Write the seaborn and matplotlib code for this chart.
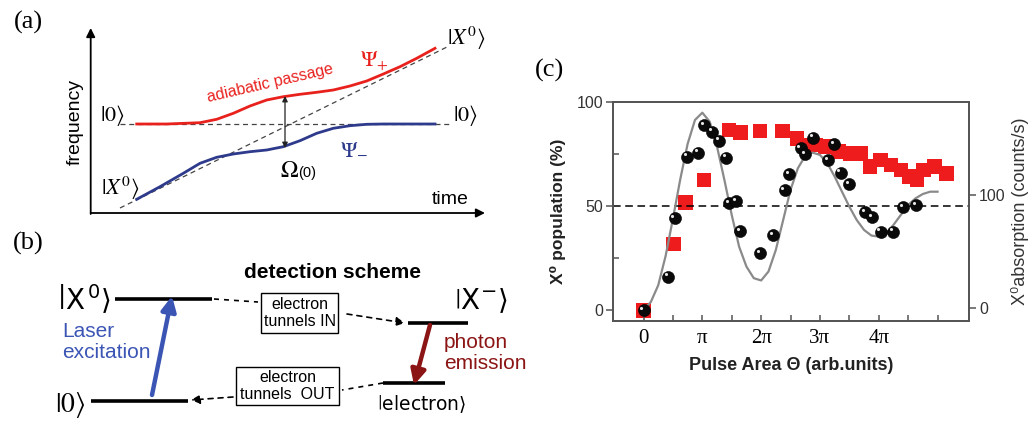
import numpy as np
import pandas as pd
import matplotlib
matplotlib.use("Agg")
import matplotlib.pyplot as plt
import matplotlib.transforms as mtransforms
from matplotlib.patches import Rectangle
import seaborn as sns

# ---------------- panel (c) data ----------------
# pulse area in units of pi
circ_theta = [0.0, 0.42, 0.53, 0.74, 0.93, 1.03, 1.17, 1.28, 1.40, 1.46, 1.58, 1.64,
              1.98, 2.20, 2.40, 2.48, 2.67, 2.75, 2.88, 3.14, 3.24, 3.35, 3.49,
              3.77, 3.89, 4.03, 4.25, 4.42, 4.64]
circ_pop = [0.0, 16.2, 44.2, 73.9, 75.8, 89.1, 85.9, 81.6, 73.4, 51.4, 52.6, 38.1,
            27.4, 36.1, 57.9, 65.4, 77.9, 75.0, 83.0, 72.3, 80.0, 66.2, 60.6,
            47.0, 44.6, 37.8, 37.8, 49.4, 50.6]
sq_theta = [0.0, 0.51, 0.71, 1.03, 1.45, 1.65, 1.98, 2.36, 2.61, 2.78, 2.92, 3.09,
            3.32, 3.52, 3.69, 3.85, 4.03, 4.21, 4.38, 4.52, 4.65, 4.76, 4.95, 5.15]
sq_abs = [-2.0, 56.8, 93.2, 113.2, 157.4, 155.0, 156.5, 156.5, 150.0, 144.0, 144.0, 142.6,
          138.2, 136.8, 136.8, 125.0, 130.9, 126.5, 122.0, 116.2, 113.2, 122.0, 125.0, 119.0]
fit_theta = [0.0, 0.125, 0.25, 0.375, 0.5, 0.625, 0.75, 0.875, 1.0, 1.125, 1.25, 1.375,
             1.5, 1.625, 1.75, 1.875, 2.0, 2.125, 2.25, 2.375, 2.5, 2.625, 2.75, 2.875,
             3.0, 3.125, 3.25, 3.375, 3.5, 3.625, 3.75, 3.875, 4.0, 4.125, 4.25, 4.375,
             4.5, 4.625, 4.75, 4.875, 5.0]
fit_pop = [0.0, 4.0, 12.0, 26.0, 44.0, 63.0, 80.0, 91.5, 95.0, 90.7, 78.7, 62.7,
           45.8, 30.6, 21.0, 15.4, 14.3, 18.6, 29.0, 43.4, 57.9, 68.3, 74.2, 75.8,
           74.7, 70.7, 64.3, 57.0, 49.8, 43.4, 38.6, 35.9, 35.4, 37.0, 41.0, 45.8,
           50.6, 53.8, 55.9, 57.0, 57.0]
xtick_vals = [0, 1, 2, 3, 4, 5]
xtick_labels = ["0", "π", "2π", "3π", "4π", ""]
left_ticks = [0, 50, 100]
right_ticks = [0, 100]

# ---------------- panel (a) data (diagram units = figure pixels) ----------------
a_red_x = [136.7, 166.7, 200, 216.7, 233.3, 250, 266.7, 283.3, 300, 316.7, 333.3, 350,
           366.7, 383.3, 400, 416.7, 435]
a_red_y = [124, 124, 122.7, 119.3, 113.3, 106, 100, 96.7, 94.3, 92.3, 90, 86,
           81, 74, 66.7, 58.3, 48.3]
a_blue_x = [136.7, 160, 183.3, 200, 216.7, 233.3, 250, 266.7, 283.3, 300, 316.7, 333.3,
            350, 366.7, 383.3, 435]
a_blue_y = [199.3, 186.7, 173.3, 163.3, 157.3, 154, 151.7, 150, 146.7, 140.7, 133.3, 128.3,
            125.7, 124.3, 124, 124]

W, H = 1031, 430
fig = plt.figure(figsize=(W / 100, H / 100), dpi=100)
plt.rcParams['font.family'] = ['Liberation Sans', 'DejaVu Sans']
SERIF = ['Liberation Serif', 'DejaVu Serif']

RED = '#e8211d'
BLUE = '#2e3a8c'
DRED = '#8b1414'
LBLUE = '#3b55b5'

# overlay axes for diagrams (a) and (b)
ax0 = fig.add_axes([0, 0, 1, 1])
ax0.set_xlim(0, W)
ax0.set_ylim(H, 0)
ax0.axis('off')

def arrow(x0, y0, x1, y1, color='k', lw=1.2, ls='-', style='-|>', ms=12):
    ax0.annotate('', xy=(x1, y1), xytext=(x0, y0),
                 arrowprops=dict(arrowstyle=style, color=color, lw=lw, ls=ls,
                                 mutation_scale=ms, shrinkA=0, shrinkB=0))

# ---- panel (a) ----
ax0.text(28, 22, "(a)", fontsize=19, family=SERIF, ha='center', va='center')
arrow(90.7, 214, 90.7, 28, lw=1.3, ms=13)
arrow(90.7, 213, 485, 213, lw=1.3, ms=13)
ax0.plot([120, 450], [124, 124], color='#444444', lw=0.9, ls=(0, (4, 3)))
ax0.plot([120, 447], [208, 47], color='#444444', lw=0.9, ls=(0, (4, 3)))
sns.lineplot(x=a_red_x, y=a_red_y, ax=ax0, color=RED, lw=2.0, sort=False)
sns.lineplot(x=a_blue_x, y=a_blue_y, ax=ax0, color=BLUE, lw=2.0, sort=False)
ax0.annotate('', xy=(285, 96), xytext=(285, 148),
             arrowprops=dict(arrowstyle='<|-|>', color='#222222', lw=0.9,
                             mutation_scale=8, shrinkA=0, shrinkB=0))
ax0.text(75, 122, "frequency", rotation=90, fontsize=14, ha='center', va='center')
ax0.text(450, 199, "time", fontsize=14, ha='center', va='center')
ax0.text(112, 115, r"$|0\rangle$", fontsize=16, math_fontfamily='stix', ha='center', va='center')
ax0.text(465, 115, r"$|0\rangle$", fontsize=16, math_fontfamily='stix', ha='center', va='center')
ax0.text(466, 38, r"$|X^0\rangle$", fontsize=16, math_fontfamily='stix', ha='center', va='center')
ax0.text(120, 188, r"$|X^0\rangle$", fontsize=16, math_fontfamily='stix', ha='center', va='center')
ax0.text(270, 83, "adiabatic passage", color=RED, fontsize=11.5, rotation=13,
         ha='center', va='center', rotation_mode='anchor')
ax0.text(374, 61, r"$\Psi_{+}$", color=RED, fontsize=16, math_fontfamily='stix', ha='center', va='center')
ax0.text(354, 149, r"$\Psi_{-}$", color=BLUE, fontsize=16, math_fontfamily='stix', ha='center', va='center')
ax0.text(289, 171, r"$\Omega$", fontsize=17, math_fontfamily='stix', ha='center', va='center')
ax0.text(307, 173, "(0)", fontsize=10.5, ha='center', va='center')

# ---- panel (b) ----
ax0.text(28, 243, "(b)", fontsize=19, family=SERIF, ha='center', va='center')
ax0.text(333, 272, "detection scheme", fontsize=15, fontweight='bold', ha='center', va='center')
for (x0, x1, y) in [(115, 212, 299), (408, 468, 323), (383, 445, 383), (91, 188, 401)]:
    ax0.plot([x0, x1], [y, y], color='k', lw=2.6, solid_capstyle='butt')
ax0.text(84, 299, r"$\left|\mathrm{X}^{\,0}\right\rangle$", fontsize=20,
         math_fontfamily='dejavusans', ha='center', va='center')
ax0.text(481, 301, r"$\left|\mathrm{X}^{-}\right\rangle$", fontsize=20,
         math_fontfamily='dejavusans', ha='center', va='center')
ax0.text(70, 405, r"$\left|0\right\rangle$", fontsize=20,
         math_fontfamily='stix', ha='center', va='center')
ax0.text(422, 404, r"$\left|\mathrm{electron}\right\rangle$", fontsize=13.5,
         math_fontfamily='dejavusans', ha='center', va='center')
# boxes
ax0.add_patch(Rectangle((261, 293), 77, 40, fill=False, ec='k', lw=1.0))
ax0.text(299.5, 313, "electron\ntunnels IN", fontsize=11.5, ha='center', va='center', linespacing=1.2)
ax0.add_patch(Rectangle((236, 367), 103, 38, fill=False, ec='k', lw=1.0))
ax0.text(287.5, 386, "electron\ntunnels  OUT", fontsize=11.5, ha='center', va='center', linespacing=1.2)
ax0.plot([214, 258], [299, 302], color='k', lw=1.2, ls=(0, (3, 3)))
arrow(347, 314, 405, 323, lw=1.2, ls=(0, (3, 3)), ms=13)
ax0.plot([383, 342], [383, 390], color='k', lw=1.2, ls=(0, (3, 3)))
arrow(233, 397, 191, 400, lw=1.2, ls=(0, (3, 3)), ms=13)
# transitions
arrow(152, 395, 172, 296, color=LBLUE, lw=3.2, ms=22)
arrow(430, 325, 414, 385, color=DRED, lw=3.2, ms=22)
ax0.text(62, 342, "Laser\nexcitation", color=LBLUE, fontsize=15, ha='left', va='center', linespacing=1.15)
ax0.text(444, 353, "photon\nemission", color=DRED, fontsize=15, ha='left', va='center', linespacing=1.15)

# ---------------- panel (c) ----------------
ax0.text(550, 70, "(c)", fontsize=19, family=SERIF, ha='center', va='center')
axc = fig.add_axes([613.3 / W, 1 - 321 / H, 356 / W, 218.7 / H])
axr = axc.twinx()
sns.scatterplot(x=sq_theta, y=sq_abs, ax=axr, marker='s', s=110, color='#ee1c1c',
                edgecolor='none', linewidth=0)
axc.set_zorder(axr.get_zorder() + 1)
axc.patch.set_visible(False)
axc.axhline(50, color='k', ls=(0, (5, 3)), lw=1.1)
sns.lineplot(x=fit_theta, y=fit_pop, ax=axc, color='#8a8a8a', lw=1.6)
sns.scatterplot(x=circ_theta, y=circ_pop, ax=axc, s=75, color='#0a0a0a',
                edgecolor='#000000', linewidth=0.4, zorder=4)
hl = mtransforms.offset_copy(axc.transData, fig=fig, x=-1.6, y=1.6, units='points')
axc.scatter(circ_theta, circ_pop, s=5, color='white', alpha=0.9, transform=hl, zorder=5, lw=0)

axc.set_xlim(-0.514, 5.54)
axc.set_ylim(-5.2, 100)
axr.set_ylim(-11.2, 181.8)

SP = '#555555'
for a in (axc, axr):
    for s in a.spines.values():
        s.set_color(SP)
        s.set_linewidth(1.3)

axc.set_xticks(xtick_vals)
axc.set_xticklabels(xtick_labels, fontfamily=SERIF, fontsize=15)
axc.set_xticks(np.arange(0.5, 5.5, 1.0), minor=True)
axc.tick_params(axis='x', which='both', direction='in', length=4, width=1.1, color=SP, pad=6,
                top=False)
axc.set_yticks(left_ticks)
axc.set_yticks([25, 75], minor=True)
axc.tick_params(axis='y', which='major', direction='out', length=5, width=1.1, color=SP,
                labelsize=11.5, labelcolor='#333333', pad=2)
axc.tick_params(axis='y', which='minor', direction='in', length=4, width=1.1, color=SP)
axr.set_yticks(right_ticks)
axr.tick_params(axis='y', which='major', direction='out', length=5, width=1.1, color=SP,
                labelsize=11.5, labelcolor='#333333', pad=2)

axc.set_xlabel("Pulse Area Θ (arb.units)", fontsize=13, fontweight='bold', labelpad=6,
               color='#222222')
axc.set_ylabel("X⁰ population (%)", fontsize=12.5, fontweight='bold', labelpad=8,
               color='#222222')
axr.set_ylabel("X⁰absorption (counts/s)", fontsize=13, rotation=90, labelpad=4,
               color='#333333')

fig.savefig("out.png", dpi=100)
